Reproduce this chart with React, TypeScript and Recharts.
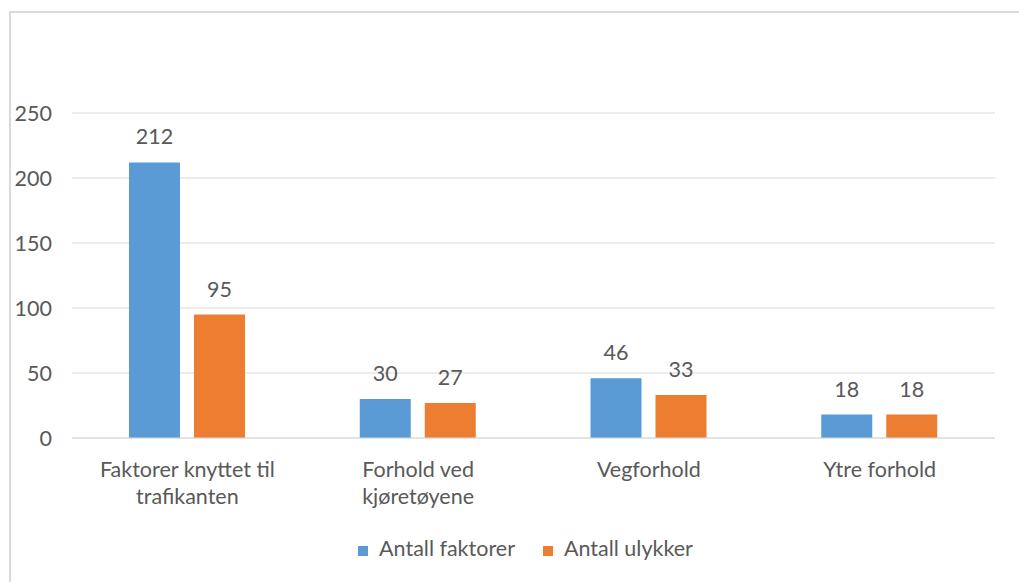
import React from 'react';
import { BarChart, Bar, XAxis, YAxis, CartesianGrid, Legend, LabelList } from 'recharts';

const categories = ['Faktorer knyttet til trafikanten', 'Forhold ved kjøretøyene', 'Vegforhold', 'Ytre forhold'];
const categoryLines = [['Faktorer knyttet til', 'trafikanten'], ['Forhold ved', 'kjøretøyene'], ['Vegforhold'], ['Ytre forhold']];
const antallFaktorer = [212, 30, 46, 18];
const antallUlykker = [95, 27, 33, 18];
const yTicks = [0, 50, 100, 150, 200, 250];

const data = categories.map((name, i) => ({
  name,
  faktorer: antallFaktorer[i],
  ulykker: antallUlykker[i],
}));

const FONT = 'Lato, sans-serif';
const TEXT = '#595959';
const FS = 21.5;

const CategoryTick = (props: any) => {
  const { x, y, index } = props;
  const lines = categoryLines[index] || [props.payload.value];
  return (
    <text x={x} y={y} textAnchor="middle" fill={TEXT} fontSize={FS} fontFamily={FONT}>
      {lines.map((line: string, i: number) => (
        <tspan key={i} x={x} dy={i === 0 ? 31 : 27}>{line}</tspan>
      ))}
    </text>
  );
};

export default function App() {
  return (
    <div style={{ position: 'absolute', left: 0, top: 0, width: 1019, height: 582, background: '#fff', overflow: 'hidden' }}>
      <div style={{ position: 'absolute', left: 9, top: 11, width: 1100, height: 700, borderLeft: '2px solid #D9D9D9', borderTop: '2px solid #D9D9D9' }} />
      <BarChart
        width={1019}
        height={582}
        data={data}
        margin={{ top: 113, right: 24, left: 0, bottom: 44 }}
        barSize={51}
        barGap={14}
      >
        <CartesianGrid vertical={false} stroke="#D9D9D9" />
        <XAxis
          dataKey="name"
          axisLine={{ stroke: '#D9D9D9' }}
          tickLine={false}
          height={100}
          interval={0}
          tick={<CategoryTick />}
        />
        <YAxis
          width={72}
          domain={[0, 250]}
          ticks={yTicks}
          axisLine={false}
          tickLine={false}
          tickMargin={14}
          tick={{ fill: TEXT, fontSize: FS, fontFamily: FONT }}
        />
        <Legend
          verticalAlign="middle"
          align="center"
          layout="horizontal"
          iconType="square"
          iconSize={10}
          wrapperStyle={{ top: 535, left: 42, fontFamily: FONT, fontSize: FS }}
          formatter={(value: string) => <span style={{ color: TEXT, marginLeft: 7, marginRight: 18 }}>{value}</span>}
        />
        <Bar dataKey="faktorer" name="Antall faktorer" fill="#5B9BD5" isAnimationActive={false}>
          <LabelList dataKey="faktorer" position="top" offset={18} fill={TEXT} fontSize={FS} fontFamily={FONT} />
        </Bar>
        <Bar dataKey="ulykker" name="Antall ulykker" fill="#ED7D31" isAnimationActive={false}>
          <LabelList dataKey="ulykker" position="top" offset={18} fill={TEXT} fontSize={FS} fontFamily={FONT} />
        </Bar>
      </BarChart>
    </div>
  );
}
